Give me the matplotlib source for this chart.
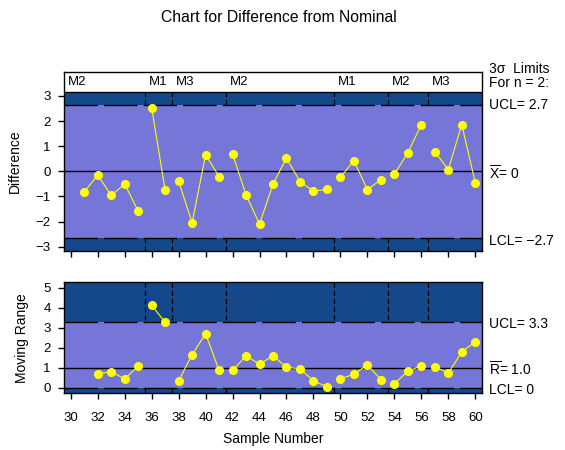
import numpy as np
import matplotlib
matplotlib.use("Agg")
import matplotlib.pyplot as plt
import matplotlib.transforms as mtransforms

plt.rcParams['font.family'] = ['Liberation Sans', 'DejaVu Sans']
plt.rcParams['mathtext.fontset'] = 'custom'
plt.rcParams['mathtext.rm'] = 'Liberation Sans'
plt.rcParams['mathtext.it'] = 'Liberation Sans'

# data
samples = list(range(30, 61))
difference = [np.nan, -0.82, -0.15, -0.96, -0.51, -1.58, 2.53, -0.75, -0.39, -2.05,
              0.66, -0.21, 0.69, -0.94, -2.10, -0.51, 0.53, -0.41, -0.79, -0.72,
              -0.24, 0.42, -0.73, -0.33, -0.11, 0.74, 1.86, 0.78, 0.07, 1.86, -0.45]
moving_range = [np.nan, np.nan, 0.69, 0.80, 0.44, 1.08, 4.12, 3.27, 0.34, 1.65,
                2.70, 0.87, 0.87, 1.60, 1.17, 1.60, 1.02, 0.95, 0.34, 0.05,
                0.45, 0.67, 1.15, 0.40, 0.20, 0.82, 1.10, 1.05, 0.73, 1.78, 2.30]

phase_labels = ["M2", "M1", "M3", "M2", "M1", "M2", "M3"]
phase_start = [30, 36, 38, 42, 50, 54, 57]
phase_end = [35, 37, 41, 49, 53, 56, 60]

x_mean, x_ucl, x_lcl = 0.0, 2.66, -2.66
r_mean, r_ucl, r_lcl = 1.0, 3.27, 0.0

dark = '#15478B'
light = '#7676D8'
pt_color = '#FFFF00'

samples = np.array(samples)
difference = np.array(difference)
moving_range = np.array(moving_range)

fig = plt.figure(figsize=(5.65, 4.5), dpi=100)
ax1 = fig.add_axes([0.1133, 0.4422, 0.7398, 0.3978])
ax2 = fig.add_axes([0.1133, 0.1260, 0.7398, 0.2467])

limit_dash = (0, (24, 4.5))


def draw_panel(ax, values, mean, ucl, lcl, ylo, yhi):
    ax.set_facecolor(dark)
    ax.set_xlim(29.5, 60.5)
    ax.set_ylim(ylo, yhi)
    # phase boundaries (hidden by the light zone)
    for s in phase_start[1:]:
        ax.axvline(s - 0.5, color='black', lw=0.9, ls=(0, (4, 2.5)), zorder=1)
    ax.axhspan(lcl, ucl, color=light, zorder=2, lw=0)
    ax.axhline(mean, color='black', lw=1, zorder=3)
    ax.axhline(ucl, color='black', lw=1, ls=limit_dash, zorder=3)
    ax.axhline(lcl, color='black', lw=1, ls=limit_dash, zorder=3)
    for s, e in zip(phase_start, phase_end):
        m = (samples >= s) & (samples <= e)
        ax.plot(samples[m], values[m], color=pt_color, lw=0.8, marker='o',
                ms=5.5, mec=pt_color, mfc=pt_color, zorder=4, clip_on=False)
    ax.set_xticks(range(30, 61, 2))
    for sp in ax.spines.values():
        sp.set_linewidth(1)
        sp.set_zorder(6)
    ax.tick_params(direction='out', length=4.5, width=1, labelsize=9.5)


# upper chart
draw_panel(ax1, difference, x_mean, x_ucl, x_lcl, -3.175, 3.956)
band_lo = 3.171
ax1.axhspan(band_lo, 3.956, color='white', zorder=5, lw=0)
ax1.axhline(band_lo, color='black', lw=1, zorder=5)
for lab, s in zip(phase_labels, phase_start):
    ax1.text(s - 0.5 + 0.3, (band_lo + 3.956) / 2 - 0.02, lab, fontsize=9.5,
             ha='left', va='center', zorder=6)
ax1.set_yticks(range(-3, 4))
ax1.set_yticklabels(['\u22123', '\u22122', '\u22121', '0', '1', '2', '3'])
ax1.tick_params(axis='x', labelbottom=False)
ax1.tick_params(axis='y', pad=5)
ax1.set_ylabel('Difference', fontsize=10, labelpad=10)

# lower chart
draw_panel(ax2, moving_range, r_mean, r_ucl, r_lcl, -0.28, 5.27)
ax2.set_yticks(range(0, 6))
ax2.tick_params(axis='y', pad=5)
ax2.tick_params(axis='x', pad=9)
ax2.set_ylabel('Moving Range', fontsize=10, labelpad=10)
ax2.set_xlabel('Sample Number', fontsize=10, labelpad=6)

# right side labels
t1 = mtransforms.blended_transform_factory(ax1.transAxes, ax1.transData)
t2 = mtransforms.blended_transform_factory(ax2.transAxes, ax2.transData)
xr = 1.017
ax1.text(xr, 4.08, '3\u03c3  Limits', transform=t1, fontsize=10, va='center', clip_on=False)
ax1.text(xr, 3.50, 'For n = 2:', transform=t1, fontsize=10, va='center', clip_on=False)
ax1.text(xr, x_ucl - 0.02, 'UCL= 2.7', transform=t1, fontsize=10, va='center', clip_on=False)
ax1.text(xr, x_mean - 0.1, r'$\overline{\mathrm{X}}$= 0', transform=t1, fontsize=10,
         va='center', clip_on=False)
ax1.text(xr, x_lcl - 0.1, 'LCL= \u22122.7', transform=t1, fontsize=10, va='center', clip_on=False)
ax2.text(xr, r_ucl - 0.1, 'UCL= 3.3', transform=t2, fontsize=10, va='center', clip_on=False)
ax2.text(xr, r_mean - 0.1, r'$\overline{\mathrm{R}}$= 1.0', transform=t2, fontsize=10,
         va='center', clip_on=False)
ax2.text(xr, r_lcl - 0.1, 'LCL= 0', transform=t2, fontsize=10, va='center', clip_on=False)

fig.text(0.493, 1 - 17 / 450, 'Chart for Difference from Nominal', fontsize=11.3,
         ha='center', va='center')

fig.savefig('out.png', dpi=100)
